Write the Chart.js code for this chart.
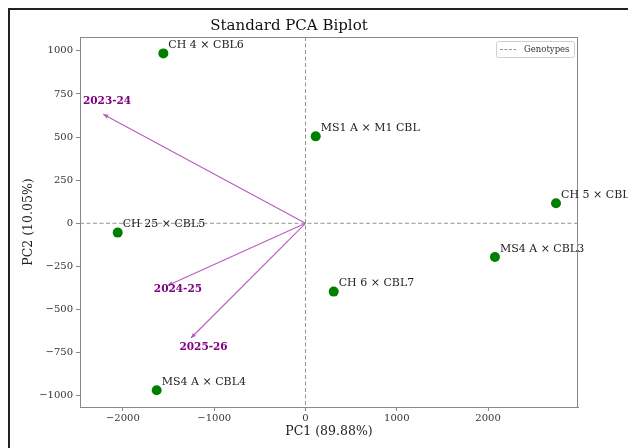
<!DOCTYPE html>
<html>
<head>
<meta charset="utf-8">
<script src="https://cdn.jsdelivr.net/npm/chart.js@4/dist/chart.umd.min.js"></script>
<style>
    html, body { margin: 0; padding: 0; background: #fff; overflow: hidden; }
    #frame { position: absolute; left: 8px; top: 8px; width: 700px; height: 520px; border: 2px solid #222; }
    #wrap { position: absolute; left: 0; top: 0; width: 628px; height: 448px; }
</style>
</head>
<body>
<div id="frame"></div>
<div id="wrap"><canvas id="biplot" width="628" height="448"></canvas></div>
<script>
// Genotypes (scores)
const genotypes = ['CH 4 × CBL6', 'MS1 A × M1 CBL', 'CH 5 × CBL2', 'CH 25 × CBL5', 'MS4 A × CBL3', 'CH 6 × CBL7', 'MS4 A × CBL4'];
const pc1Scores = [-1557, 112, 2744, -2057, 2075, 309, -1630];
const pc2Scores = [985, 504, 116, -54, -195, -396, -968];

// Environments (loadings, arrows from origin)
const seasons = ['2023-24', '2024-25', '2025-26'];
const pc1Loadings = [-2216, -1510, -1255];
const pc2Loadings = [632, -360, -665];

// Axes
const xTicks = [-2000, -1000, 0, 1000, 2000];
const yTicks = [-1000, -750, -500, -250, 0, 250, 500, 750, 1000];
const xRange = [-2470, 2985];
const yRange = [-1065, 1080];

const SERIF = "'DejaVu Serif', serif";
const tickFmt = v => v < 0 ? '\u2212' + Math.abs(v) : String(v);

const pointData = pc1Scores.map((x, i) => ({ x: x, y: pc2Scores[i] }));

const arrowSets = seasons.map((s, i) => ({
    type: 'line',
    label: s,
    data: [{ x: 0, y: 0 }, { x: pc1Loadings[i], y: pc2Loadings[i] }],
    borderColor: '#b95cc0',
    borderWidth: 1.1,
    pointRadius: 0,
    fill: false,
    order: 2
}));

// zero lines, plot frame, arrow heads, labels, legend
const biplotDecor = {
    id: 'biplotDecor',
    beforeDatasetsDraw(chart) {
        const { ctx, chartArea: a, scales: { x, y } } = chart;
        const x0 = x.getPixelForValue(0), y0 = y.getPixelForValue(0);
        ctx.save();
        ctx.strokeStyle = '#888';
        ctx.lineWidth = 0.9;
        ctx.setLineDash([4, 2.5]);
        ctx.beginPath();
        ctx.moveTo(a.left, y0); ctx.lineTo(a.right, y0);
        ctx.moveTo(x0, a.top); ctx.lineTo(x0, a.bottom);
        ctx.stroke();
        ctx.restore();
    },
    afterDatasetsDraw(chart) {
        const { ctx, chartArea: a, scales: { x, y } } = chart;
        ctx.save();
        // frame
        ctx.strokeStyle = '#888';
        ctx.lineWidth = 1;
        ctx.strokeRect(a.left + 0.5, a.top + 0.5, a.width - 1, a.height);

        // arrow heads + season labels
        const x0 = x.getPixelForValue(0), y0 = y.getPixelForValue(0);
        seasons.forEach((s, i) => {
            const tx = x.getPixelForValue(pc1Loadings[i]);
            const ty = y.getPixelForValue(pc2Loadings[i]);
            const ang = Math.atan2(ty - y0, tx - x0);
            const len = 5, hw = 2.2;
            ctx.fillStyle = '#b95cc0';
            ctx.beginPath();
            ctx.moveTo(tx, ty);
            ctx.lineTo(tx - len * Math.cos(ang) + hw * Math.sin(ang), ty - len * Math.sin(ang) - hw * Math.cos(ang));
            ctx.lineTo(tx - len * Math.cos(ang) - hw * Math.sin(ang), ty - len * Math.sin(ang) + hw * Math.cos(ang));
            ctx.closePath();
            ctx.fill();

            ctx.fillStyle = '#800080';
            ctx.font = 'bold 10.5px ' + SERIF;
            ctx.textAlign = 'left';
            ctx.textBaseline = 'middle';
            ctx.fillText(s, x.getPixelForValue(pc1Loadings[i] * 1.1), y.getPixelForValue(pc2Loadings[i] * 1.1) - 2);
        });

        // genotype labels
        ctx.fillStyle = '#222';
        ctx.font = '11px ' + SERIF;
        ctx.textAlign = 'left';
        ctx.textBaseline = 'middle';
        genotypes.forEach((g, i) => {
            ctx.fillText(g, x.getPixelForValue(pc1Scores[i]) + 5, y.getPixelForValue(pc2Scores[i]) - 8);
        });

        // legend
        const lx = a.right - 82, ly = a.top + 4, lw = 78, lh = 16;
        ctx.fillStyle = 'rgba(255,255,255,0.8)';
        ctx.strokeStyle = '#d0d0d0';
        ctx.lineWidth = 1;
        ctx.beginPath();
        ctx.roundRect(lx + 0.5, ly + 0.5, lw, lh, 2);
        ctx.fill();
        ctx.stroke();
        ctx.strokeStyle = '#888';
        ctx.lineWidth = 0.9;
        ctx.setLineDash([3, 1.5]);
        ctx.beginPath();
        ctx.moveTo(lx + 4, ly + 8.5); ctx.lineTo(lx + 20, ly + 8.5);
        ctx.stroke();
        ctx.setLineDash([]);
        ctx.fillStyle = '#333';
        ctx.font = '8.5px ' + SERIF;
        ctx.fillText('Genotypes', lx + 28, ly + 8.5);
        ctx.restore();
    }
};

new Chart(document.getElementById('biplot').getContext('2d'), {
    data: {
        datasets: [
            {
                type: 'scatter',
                label: 'Genotypes',
                data: pointData,
                backgroundColor: '#008000',
                borderWidth: 0,
                pointRadius: 5,
                order: 1
            },
            ...arrowSets
        ]
    },
    options: {
        responsive: false,
        animation: false,
        devicePixelRatio: 1,
        layout: { padding: { left: 0, right: 50, top: 0, bottom: 0 } },
        plugins: {
            legend: { display: false },
            tooltip: { enabled: false },
            title: {
                display: true,
                text: 'Standard PCA Biplot',
                color: '#111',
                font: { family: SERIF, size: 15, weight: 'normal' },
                padding: { top: 17, bottom: 2 }
            }
        },
        scales: {
            x: {
                type: 'linear',
                min: xRange[0],
                max: xRange[1],
                afterBuildTicks: s => { s.ticks = xTicks.map(v => ({ value: v })); },
                afterFit: s => { s.height = 41; },
                grid: { drawOnChartArea: false, drawTicks: true, tickLength: 4, color: '#888' },
                border: { display: true, color: '#888' },
                ticks: { color: '#333', padding: 1, font: { family: SERIF, size: 10 }, callback: tickFmt, maxRotation: 0 },
                title: { display: true, text: 'PC1 (89.88%)', color: '#222', font: { family: SERIF, size: 12.5 }, padding: { top: 0, bottom: 8.5 } }
            },
            y: {
                type: 'linear',
                min: yRange[0],
                max: yRange[1],
                afterBuildTicks: s => { s.ticks = yTicks.map(v => ({ value: v })); },
                afterFit: s => { s.width = 80; },
                grid: { drawOnChartArea: false, drawTicks: true, tickLength: 4, color: '#888' },
                border: { display: true, color: '#888' },
                ticks: { color: '#333', padding: 3, font: { family: SERIF, size: 10 }, callback: tickFmt },
                title: { display: true, text: 'PC2 (10.05%)', color: '#222', font: { family: SERIF, size: 12.5 }, padding: { top: 21, bottom: 0 } }
            }
        }
    },
    plugins: [biplotDecor]
});
</script>
</body>
</html>
